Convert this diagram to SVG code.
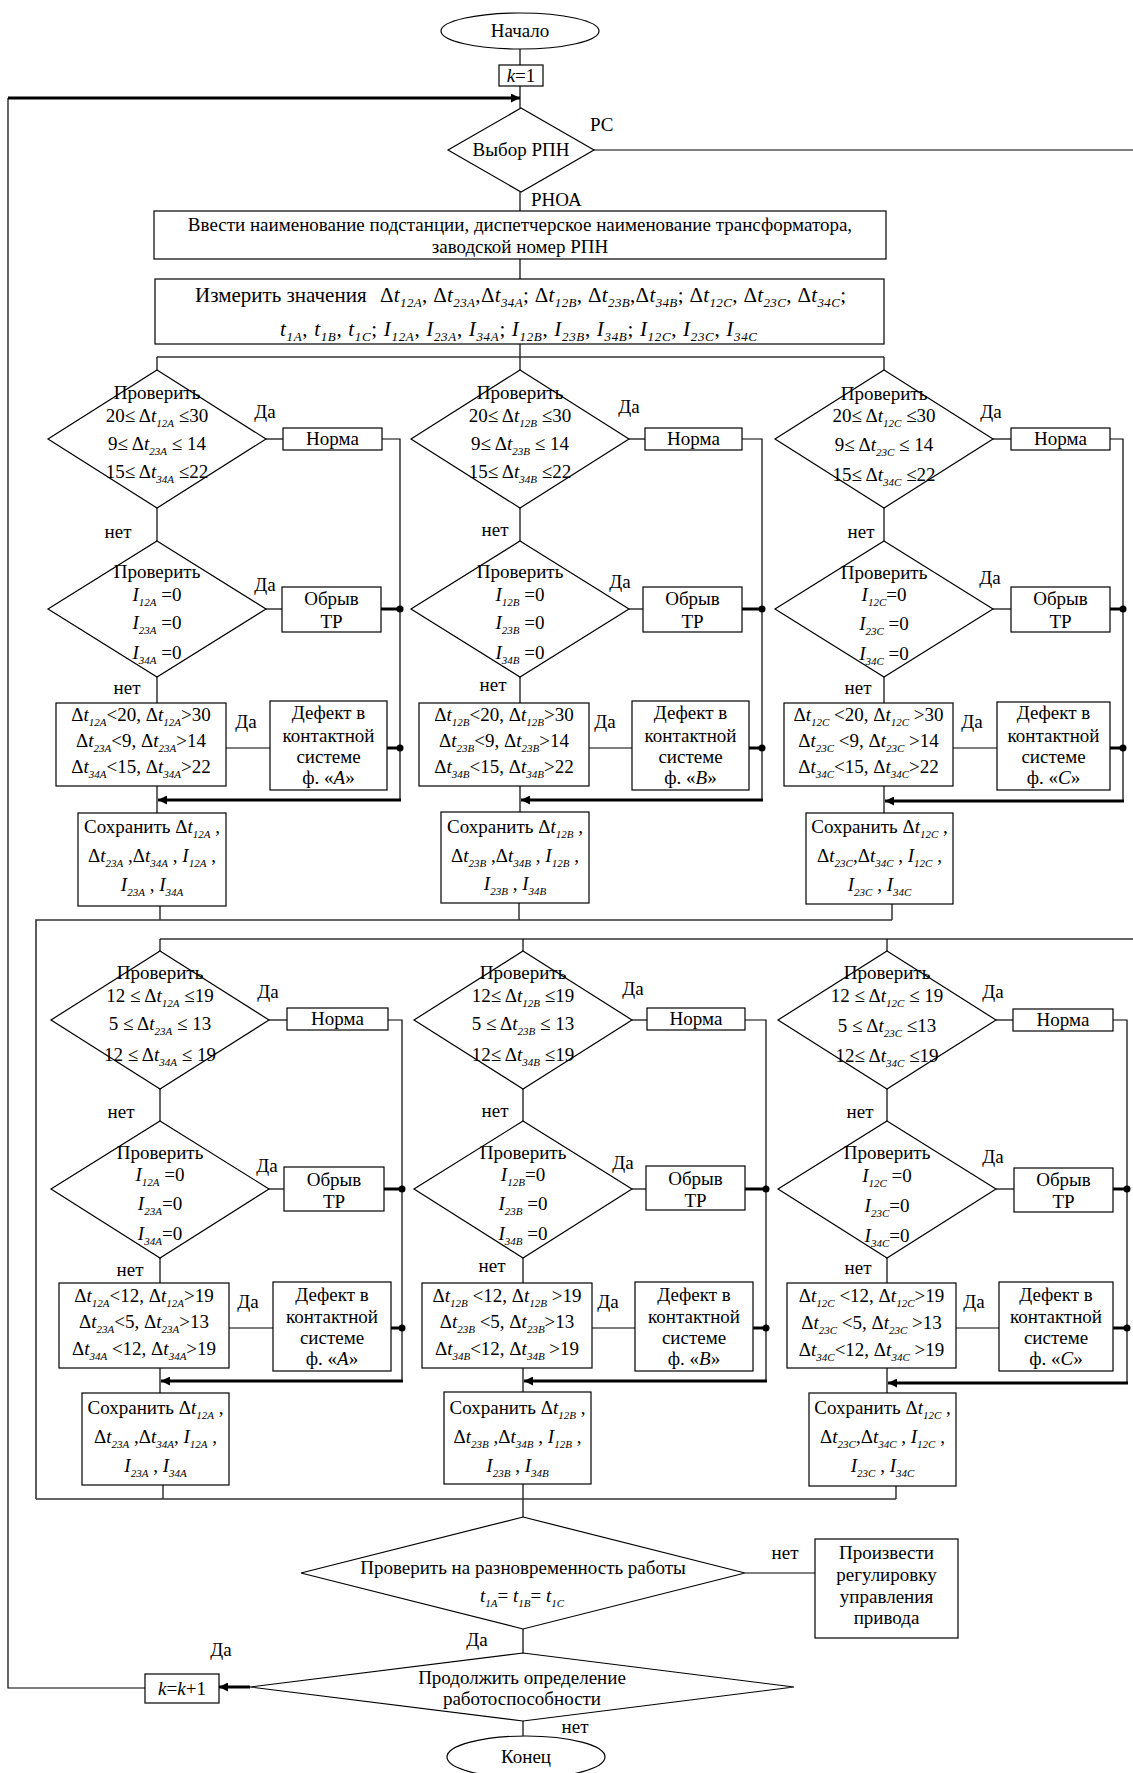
<svg xmlns="http://www.w3.org/2000/svg" width="1133" height="1773" viewBox="0 0 1133 1773">
<style>
.n rect,.n polygon,.n ellipse{fill:#fff;stroke:#000;stroke-width:1.2}
text{font-family:"Liberation Serif","Times New Roman",serif;font-size:19px;fill:#000}
.t{text-anchor:middle}
.i{font-style:italic}
.s{font-size:11px;font-style:italic}
.m{font-size:21px}
.m .s{font-size:13px}
.c line,.c polyline{stroke:#000;stroke-width:1.2;fill:none}
.c .bus{stroke:#333;stroke-width:1.6}
.c .th{stroke-width:3}
.c .ar{marker-end:url(#ah)}
.c circle{fill:#000}
</style>
<defs>
<marker id="ah" viewBox="0 0 10 10" refX="10" refY="5" markerWidth="4" markerHeight="3" orient="auto"><path d="M0,0 L10,5 L0,10 z" fill="#000"/></marker>
</defs>
<rect x="0" y="0" width="1133" height="1773" fill="#fff"/>

<g class="c" id="connectors">
<line x1="520" y1="49" x2="520" y2="65"/>
<line x1="520" y1="86" x2="520" y2="108"/>
<line class="th ar" x1="8" y1="98" x2="520" y2="98"/>
<line x1="594" y1="150" x2="1133" y2="150"/>
<line x1="520" y1="192" x2="520" y2="211"/>
<line x1="520" y1="259" x2="520" y2="279"/>
<line x1="520" y1="344" x2="520" y2="357"/>
<line class="bus" x1="157" y1="357" x2="884" y2="357"/>
<!-- row 1 column A -->
<line x1="157" y1="357" x2="157" y2="370"/>
<line x1="266" y1="439" x2="283" y2="439"/>
<polyline points="382,439 400,439 400,800"/>
<line x1="157" y1="508" x2="157" y2="541"/>
<line x1="266" y1="609" x2="282" y2="609"/>
<line class="th" x1="381" y1="609" x2="400" y2="609"/>
<circle cx="400" cy="609" r="3.5"/>
<line x1="157" y1="677" x2="157" y2="703"/>
<line x1="226" y1="748" x2="270" y2="748"/>
<line class="th" x1="387" y1="748" x2="400" y2="748"/>
<circle cx="400" cy="748" r="3.5"/>
<line class="th ar" x1="401" y1="800" x2="158" y2="800"/>
<line x1="157" y1="786" x2="157" y2="813"/>
<line x1="160" y1="906" x2="160" y2="920"/>
<!-- row 1 column B -->
<line x1="520" y1="357" x2="520" y2="370"/>
<line x1="629" y1="439" x2="645" y2="439"/>
<polyline points="742,439 762,439 762,800"/>
<line x1="520" y1="508" x2="520" y2="541"/>
<line x1="629" y1="609" x2="643" y2="609"/>
<line class="th" x1="742" y1="609" x2="762" y2="609"/>
<circle cx="762" cy="609" r="3.5"/>
<line x1="520" y1="677" x2="520" y2="703"/>
<line x1="589" y1="748" x2="632" y2="748"/>
<line class="th" x1="749" y1="748" x2="762" y2="748"/>
<circle cx="762" cy="748" r="3.5"/>
<line class="th ar" x1="763" y1="800" x2="521" y2="800"/>
<line x1="520" y1="786" x2="520" y2="812"/>
<line x1="519" y1="903" x2="519" y2="920"/>
<!-- row 1 column C -->
<line x1="884" y1="357" x2="884" y2="370"/>
<line x1="993" y1="439" x2="1011" y2="439"/>
<polyline points="1110,439 1123,439 1123,801"/>
<line x1="884" y1="508" x2="884" y2="541"/>
<line x1="993" y1="609" x2="1011" y2="609"/>
<line class="th" x1="1110" y1="609" x2="1123" y2="609"/>
<circle cx="1123" cy="609" r="3.5"/>
<line x1="884" y1="677" x2="884" y2="703"/>
<line x1="953" y1="748" x2="997" y2="748"/>
<line class="th" x1="1110" y1="748" x2="1123" y2="748"/>
<circle cx="1123" cy="748" r="3.5"/>
<line class="th ar" x1="1124" y1="801" x2="885" y2="801"/>
<line x1="884" y1="786" x2="884" y2="813"/>
<line x1="892" y1="904" x2="892" y2="920"/>
<!-- first half bus -->
<polyline class="bus" points="892,920 36,920 36,1499"/>
<line class="bus" x1="160" y1="939" x2="1133" y2="939"/>
<!-- row 2 column A -->
<line x1="160" y1="939" x2="160" y2="951"/>
<line x1="269" y1="1020" x2="287" y2="1020"/>
<polyline points="388,1020 402,1020 402,1381"/>
<line x1="160" y1="1089" x2="160" y2="1121"/>
<line x1="269" y1="1189" x2="284" y2="1189"/>
<line class="th" x1="384" y1="1189" x2="402" y2="1189"/>
<circle cx="402" cy="1189" r="3.5"/>
<line x1="160" y1="1258" x2="160" y2="1283"/>
<line x1="229" y1="1328" x2="273" y2="1328"/>
<line class="th" x1="391" y1="1328" x2="402" y2="1328"/>
<circle cx="402" cy="1328" r="3.5"/>
<line class="th ar" x1="403" y1="1381" x2="161" y2="1381"/>
<line x1="160" y1="1368" x2="160" y2="1393"/>
<line x1="163" y1="1485" x2="163" y2="1499"/>
<!-- row 2 column B -->
<line x1="523" y1="939" x2="523" y2="951"/>
<line x1="632" y1="1020" x2="647" y2="1020"/>
<polyline points="745,1020 766,1020 766,1381"/>
<line x1="523" y1="1089" x2="523" y2="1121"/>
<line x1="632" y1="1189" x2="646" y2="1189"/>
<line class="th" x1="745" y1="1189" x2="766" y2="1189"/>
<circle cx="766" cy="1189" r="3.5"/>
<line x1="523" y1="1258" x2="523" y2="1283"/>
<line x1="592" y1="1328" x2="635" y2="1328"/>
<line class="th" x1="753" y1="1328" x2="766" y2="1328"/>
<circle cx="766" cy="1328" r="3.5"/>
<line class="th ar" x1="767" y1="1381" x2="524" y2="1381"/>
<line x1="523" y1="1368" x2="523" y2="1392"/>
<line x1="523" y1="1484" x2="523" y2="1517"/>
<!-- row 2 column C -->
<line x1="887" y1="939" x2="887" y2="951"/>
<line x1="996" y1="1020" x2="1013" y2="1020"/>
<polyline points="1113,1020 1127,1020 1127,1383"/>
<line x1="887" y1="1089" x2="887" y2="1121"/>
<line x1="996" y1="1189" x2="1014" y2="1189"/>
<line class="th" x1="1113" y1="1189" x2="1127" y2="1189"/>
<circle cx="1127" cy="1189" r="3.5"/>
<line x1="887" y1="1258" x2="887" y2="1283"/>
<line x1="956" y1="1328" x2="999" y2="1328"/>
<line class="th" x1="1113" y1="1328" x2="1127" y2="1328"/>
<circle cx="1127" cy="1328" r="3.5"/>
<line class="th ar" x1="1128" y1="1383" x2="888" y2="1383"/>
<line x1="887" y1="1368" x2="887" y2="1393"/>
<line x1="896" y1="1486" x2="896" y2="1499"/>
<line class="bus" x1="36" y1="1499" x2="896" y2="1499"/>
<!-- bottom -->
<line x1="745" y1="1573" x2="815" y2="1573"/>
<line x1="523" y1="1629" x2="523" y2="1653"/>
<line class="th ar" x1="250" y1="1687" x2="219" y2="1687"/>
<polyline points="145,1688 8,1688 8,98"/>
<line x1="523" y1="1721" x2="523" y2="1736"/>
</g>

<g id="labels">
<text x="590" y="131">РС</text>
<text x="531" y="206">РНОА</text>
<text class="t" x="265" y="418">Да</text>
<text class="t" x="629" y="413">Да</text>
<text class="t" x="991" y="418">Да</text>
<text class="t" x="118" y="538">нет</text>
<text class="t" x="495" y="536">нет</text>
<text class="t" x="861" y="538">нет</text>
<text class="t" x="265" y="591">Да</text>
<text class="t" x="620" y="588">Да</text>
<text class="t" x="990" y="584">Да</text>
<text class="t" x="127" y="694">нет</text>
<text class="t" x="493" y="691">нет</text>
<text class="t" x="858" y="694">нет</text>
<text class="t" x="246" y="728">Да</text>
<text class="t" x="605" y="728">Да</text>
<text class="t" x="972" y="728">Да</text>
<text class="t" x="268" y="998">Да</text>
<text class="t" x="633" y="995">Да</text>
<text class="t" x="993" y="998">Да</text>
<text class="t" x="121" y="1118">нет</text>
<text class="t" x="495" y="1117">нет</text>
<text class="t" x="860" y="1118">нет</text>
<text class="t" x="267" y="1172">Да</text>
<text class="t" x="623" y="1169">Да</text>
<text class="t" x="993" y="1163">Да</text>
<text class="t" x="130" y="1276">нет</text>
<text class="t" x="492" y="1272">нет</text>
<text class="t" x="858" y="1274">нет</text>
<text class="t" x="248" y="1308">Да</text>
<text class="t" x="608" y="1308">Да</text>
<text class="t" x="974" y="1308">Да</text>
<text class="t" x="785" y="1559">нет</text>
<text class="t" x="477" y="1646">Да</text>
<text class="t" x="221" y="1656">Да</text>
<text class="t" x="575" y="1733">нет</text>
</g>

<g class="n" id="start"><ellipse cx="520" cy="31" rx="79" ry="18"/><text class="t" x="520" y="37">Начало</text></g>
<g class="n" id="k1"><rect x="499" y="65" width="44" height="21"/><text class="t" x="521" y="82"><tspan class="i">k</tspan>=1</text></g>
<g class="n" id="choose"><polygon points="521,108 594,150 521,192 448,150"/><text class="t" x="521" y="156">Выбор РПН</text></g>
<g class="n" id="input"><rect x="154" y="211" width="732" height="48"/>
<text class="t" x="520" y="231">Ввести наименование подстанции, диспетчерское наименование трансформатора,</text>
<text class="t" x="520" y="253">заводской номер РПН</text></g>
<g class="n" id="measure"><rect x="155" y="279" width="729" height="65"/>
<text x="195" y="302" class="m">Измерить значения</text>
<text class="m" x="380" y="302" textLength="466" lengthAdjust="spacing">Δ<tspan class="i">t</tspan><tspan class="s" dy="5">12A</tspan><tspan dy="-5">, Δ</tspan><tspan class="i">t</tspan><tspan class="s" dy="5">23A</tspan><tspan dy="-5">,Δ</tspan><tspan class="i">t</tspan><tspan class="s" dy="5">34A</tspan><tspan dy="-5">; Δ</tspan><tspan class="i">t</tspan><tspan class="s" dy="5">12B</tspan><tspan dy="-5">, Δ</tspan><tspan class="i">t</tspan><tspan class="s" dy="5">23B</tspan><tspan dy="-5">,Δ</tspan><tspan class="i">t</tspan><tspan class="s" dy="5">34B</tspan><tspan dy="-5">; Δ</tspan><tspan class="i">t</tspan><tspan class="s" dy="5">12C</tspan><tspan dy="-5">, Δ</tspan><tspan class="i">t</tspan><tspan class="s" dy="5">23C</tspan><tspan dy="-5">, Δ</tspan><tspan class="i">t</tspan><tspan class="s" dy="5">34C</tspan><tspan dy="-5">;</tspan></text>
<text class="m" x="280" y="336" textLength="477" lengthAdjust="spacing"><tspan class="i">t</tspan><tspan class="s" dy="5">1A</tspan><tspan dy="-5">, </tspan><tspan class="i">t</tspan><tspan class="s" dy="5">1B</tspan><tspan dy="-5">, </tspan><tspan class="i">t</tspan><tspan class="s" dy="5">1C</tspan><tspan dy="-5">; </tspan><tspan class="i">I</tspan><tspan class="s" dy="5">12A</tspan><tspan dy="-5">, </tspan><tspan class="i">I</tspan><tspan class="s" dy="5">23A</tspan><tspan dy="-5">, </tspan><tspan class="i">I</tspan><tspan class="s" dy="5">34A</tspan><tspan dy="-5">; </tspan><tspan class="i">I</tspan><tspan class="s" dy="5">12B</tspan><tspan dy="-5">, </tspan><tspan class="i">I</tspan><tspan class="s" dy="5">23B</tspan><tspan dy="-5">, </tspan><tspan class="i">I</tspan><tspan class="s" dy="5">34B</tspan><tspan dy="-5">; </tspan><tspan class="i">I</tspan><tspan class="s" dy="5">12C</tspan><tspan dy="-5">, </tspan><tspan class="i">I</tspan><tspan class="s" dy="5">23C</tspan><tspan dy="-5">, </tspan><tspan class="i">I</tspan><tspan class="s" dy="5">34C</tspan></text></g>

<!-- ROW 1 A -->
<g class="n" id="d1A"><polygon points="157,370 266,439 157,508 48,439"/>
<text class="t" x="157" y="399">Проверить</text>
<text class="t" x="157" y="422">20≤ Δ<tspan class="i">t</tspan><tspan class="s" dy="5">12A</tspan><tspan dy="-5"> ≤30</tspan></text>
<text class="t" x="157" y="450">9≤ Δ<tspan class="i">t</tspan><tspan class="s" dy="5">23A</tspan><tspan dy="-5"> ≤ 14</tspan></text>
<text class="t" x="157" y="478">15≤ Δ<tspan class="i">t</tspan><tspan class="s" dy="5">34A</tspan><tspan dy="-5"> ≤22</tspan></text></g>
<g class="n" id="norm1A"><rect x="283" y="428" width="99" height="22"/><text class="t" x="332.5" y="445">Норма</text></g>
<g class="n" id="d2A"><polygon points="157,541 266,609 157,677 48,609"/>
<text class="t" x="157" y="578">Проверить</text>
<text class="t" x="157" y="601"><tspan class="i">I</tspan><tspan class="s" dy="5">12A</tspan><tspan dy="-5"> =0</tspan></text>
<text class="t" x="157" y="629"><tspan class="i">I</tspan><tspan class="s" dy="5">23A</tspan><tspan dy="-5"> =0</tspan></text>
<text class="t" x="157" y="659"><tspan class="i">I</tspan><tspan class="s" dy="5">34A</tspan><tspan dy="-5"> =0</tspan></text></g>
<g class="n" id="obr1A"><rect x="282" y="587" width="99" height="45"/><text class="t" x="331.5" y="605">Обрыв</text><text class="t" x="331.5" y="628">ТР</text></g>
<g class="n" id="b3A"><rect x="56" y="703" width="170" height="83"/>
<text class="t" x="141" y="721">Δ<tspan class="i">t</tspan><tspan class="s" dy="5">12A</tspan><tspan dy="-5">&lt;20, Δ</tspan><tspan class="i">t</tspan><tspan class="s" dy="5">12A</tspan><tspan dy="-5">&gt;30</tspan></text>
<text class="t" x="141" y="747">Δ<tspan class="i">t</tspan><tspan class="s" dy="5">23A</tspan><tspan dy="-5">&lt;9, Δ</tspan><tspan class="i">t</tspan><tspan class="s" dy="5">23A</tspan><tspan dy="-5">&gt;14</tspan></text>
<text class="t" x="141" y="773">Δ<tspan class="i">t</tspan><tspan class="s" dy="5">34A</tspan><tspan dy="-5">&lt;15, Δ</tspan><tspan class="i">t</tspan><tspan class="s" dy="5">34A</tspan><tspan dy="-5">&gt;22</tspan></text></g>
<g class="n" id="def1A"><rect x="270" y="701" width="117" height="89"/>
<text class="t" x="328.5" y="719">Дефект в</text><text class="t" x="328.5" y="742">контактной</text><text class="t" x="328.5" y="763">системе</text><text class="t" x="328.5" y="784">ф. «<tspan class="i">A</tspan>»</text></g>
<g class="n" id="save1A"><rect x="78" y="813" width="148" height="93"/>
<text class="t" x="152" y="833">Сохранить Δ<tspan class="i">t</tspan><tspan class="s" dy="5">12A</tspan><tspan dy="-5"> ,</tspan></text>
<text class="t" x="152" y="862">Δ<tspan class="i">t</tspan><tspan class="s" dy="5">23A</tspan><tspan dy="-5"> ,Δ</tspan><tspan class="i">t</tspan><tspan class="s" dy="5">34A</tspan><tspan dy="-5"> , </tspan><tspan class="i">I</tspan><tspan class="s" dy="5">12A</tspan><tspan dy="-5"> ,</tspan></text>
<text class="t" x="152" y="891"><tspan class="i">I</tspan><tspan class="s" dy="5">23A</tspan><tspan dy="-5"> , </tspan><tspan class="i">I</tspan><tspan class="s" dy="5">34A</tspan></text></g>

<!-- ROW 1 B -->
<g class="n" id="d1B"><polygon points="520,370 629,439 520,508 411,439"/>
<text class="t" x="520" y="399">Проверить</text>
<text class="t" x="520" y="422">20≤ Δ<tspan class="i">t</tspan><tspan class="s" dy="5">12B</tspan><tspan dy="-5"> ≤30</tspan></text>
<text class="t" x="520" y="450">9≤ Δ<tspan class="i">t</tspan><tspan class="s" dy="5">23B</tspan><tspan dy="-5"> ≤ 14</tspan></text>
<text class="t" x="520" y="478">15≤ Δ<tspan class="i">t</tspan><tspan class="s" dy="5">34B</tspan><tspan dy="-5"> ≤22</tspan></text></g>
<g class="n" id="norm1B"><rect x="645" y="428" width="97" height="22"/><text class="t" x="693.5" y="445">Норма</text></g>
<g class="n" id="d2B"><polygon points="520,541 629,609 520,677 411,609"/>
<text class="t" x="520" y="578">Проверить</text>
<text class="t" x="520" y="601"><tspan class="i">I</tspan><tspan class="s" dy="5">12B</tspan><tspan dy="-5"> =0</tspan></text>
<text class="t" x="520" y="629"><tspan class="i">I</tspan><tspan class="s" dy="5">23B</tspan><tspan dy="-5"> =0</tspan></text>
<text class="t" x="520" y="659"><tspan class="i">I</tspan><tspan class="s" dy="5">34B</tspan><tspan dy="-5"> =0</tspan></text></g>
<g class="n" id="obr1B"><rect x="643" y="587" width="99" height="45"/><text class="t" x="692.5" y="605">Обрыв</text><text class="t" x="692.5" y="628">ТР</text></g>
<g class="n" id="b3B"><rect x="419" y="703" width="170" height="83"/>
<text class="t" x="504" y="721">Δ<tspan class="i">t</tspan><tspan class="s" dy="5">12B</tspan><tspan dy="-5">&lt;20, Δ</tspan><tspan class="i">t</tspan><tspan class="s" dy="5">12B</tspan><tspan dy="-5">&gt;30</tspan></text>
<text class="t" x="504" y="747">Δ<tspan class="i">t</tspan><tspan class="s" dy="5">23B</tspan><tspan dy="-5">&lt;9, Δ</tspan><tspan class="i">t</tspan><tspan class="s" dy="5">23B</tspan><tspan dy="-5">&gt;14</tspan></text>
<text class="t" x="504" y="773">Δ<tspan class="i">t</tspan><tspan class="s" dy="5">34B</tspan><tspan dy="-5">&lt;15, Δ</tspan><tspan class="i">t</tspan><tspan class="s" dy="5">34B</tspan><tspan dy="-5">&gt;22</tspan></text></g>
<g class="n" id="def1B"><rect x="632" y="701" width="117" height="89"/>
<text class="t" x="690.5" y="719">Дефект в</text><text class="t" x="690.5" y="742">контактной</text><text class="t" x="690.5" y="763">системе</text><text class="t" x="690.5" y="784">ф. «<tspan class="i">B</tspan>»</text></g>
<g class="n" id="save1B"><rect x="441" y="812" width="148" height="91"/>
<text class="t" x="515" y="833">Сохранить Δ<tspan class="i">t</tspan><tspan class="s" dy="5">12B</tspan><tspan dy="-5"> ,</tspan></text>
<text class="t" x="515" y="862">Δ<tspan class="i">t</tspan><tspan class="s" dy="5">23B</tspan><tspan dy="-5"> ,Δ</tspan><tspan class="i">t</tspan><tspan class="s" dy="5">34B</tspan><tspan dy="-5"> , </tspan><tspan class="i">I</tspan><tspan class="s" dy="5">12B</tspan><tspan dy="-5"> ,</tspan></text>
<text class="t" x="515" y="890"><tspan class="i">I</tspan><tspan class="s" dy="5">23B</tspan><tspan dy="-5"> , </tspan><tspan class="i">I</tspan><tspan class="s" dy="5">34B</tspan></text></g>

<!-- ROW 1 C -->
<g class="n" id="d1C"><polygon points="884,370 993,439 884,508 775,439"/>
<text class="t" x="884" y="400">Проверить</text>
<text class="t" x="884" y="422">20≤ Δ<tspan class="i">t</tspan><tspan class="s" dy="5">12C</tspan><tspan dy="-5"> ≤30</tspan></text>
<text class="t" x="884" y="451">9≤ Δ<tspan class="i">t</tspan><tspan class="s" dy="5">23C</tspan><tspan dy="-5"> ≤ 14</tspan></text>
<text class="t" x="884" y="481">15≤ Δ<tspan class="i">t</tspan><tspan class="s" dy="5">34C</tspan><tspan dy="-5"> ≤22</tspan></text></g>
<g class="n" id="norm1C"><rect x="1011" y="428" width="99" height="22"/><text class="t" x="1060.5" y="445">Норма</text></g>
<g class="n" id="d2C"><polygon points="884,541 993,609 884,677 775,609"/>
<text class="t" x="884" y="579">Проверить</text>
<text class="t" x="884" y="601"><tspan class="i">I</tspan><tspan class="s" dy="5">12C</tspan><tspan dy="-5">=0</tspan></text>
<text class="t" x="884" y="630"><tspan class="i">I</tspan><tspan class="s" dy="5">23C</tspan><tspan dy="-5"> =0</tspan></text>
<text class="t" x="884" y="660"><tspan class="i">I</tspan><tspan class="s" dy="5">34C</tspan><tspan dy="-5"> =0</tspan></text></g>
<g class="n" id="obr1C"><rect x="1011" y="587" width="99" height="45"/><text class="t" x="1060.5" y="605">Обрыв</text><text class="t" x="1060.5" y="628">ТР</text></g>
<g class="n" id="b3C"><rect x="784" y="703" width="169" height="83"/>
<text class="t" x="868.5" y="721">Δ<tspan class="i">t</tspan><tspan class="s" dy="5">12C</tspan><tspan dy="-5"> &lt;20, Δ</tspan><tspan class="i">t</tspan><tspan class="s" dy="5">12C</tspan><tspan dy="-5"> &gt;30</tspan></text>
<text class="t" x="868.5" y="747">Δ<tspan class="i">t</tspan><tspan class="s" dy="5">23C</tspan><tspan dy="-5"> &lt;9, Δ</tspan><tspan class="i">t</tspan><tspan class="s" dy="5">23C</tspan><tspan dy="-5"> &gt;14</tspan></text>
<text class="t" x="868.5" y="773">Δ<tspan class="i">t</tspan><tspan class="s" dy="5">34C</tspan><tspan dy="-5">&lt;15, Δ</tspan><tspan class="i">t</tspan><tspan class="s" dy="5">34C</tspan><tspan dy="-5">&gt;22</tspan></text></g>
<g class="n" id="def1C"><rect x="997" y="702" width="113" height="88"/>
<text class="t" x="1053.5" y="719">Дефект в</text><text class="t" x="1053.5" y="742">контактной</text><text class="t" x="1053.5" y="763">системе</text><text class="t" x="1053.5" y="784">ф. «<tspan class="i">C</tspan>»</text></g>
<g class="n" id="save1C"><rect x="806" y="813" width="147" height="91"/>
<text class="t" x="879.5" y="833">Сохранить Δ<tspan class="i">t</tspan><tspan class="s" dy="5">12C</tspan><tspan dy="-5"> ,</tspan></text>
<text class="t" x="879.5" y="862">Δ<tspan class="i">t</tspan><tspan class="s" dy="5">23C</tspan><tspan dy="-5">,Δ</tspan><tspan class="i">t</tspan><tspan class="s" dy="5">34C</tspan><tspan dy="-5"> , </tspan><tspan class="i">I</tspan><tspan class="s" dy="5">12C</tspan><tspan dy="-5"> ,</tspan></text>
<text class="t" x="879.5" y="891"><tspan class="i">I</tspan><tspan class="s" dy="5">23C</tspan><tspan dy="-5"> , </tspan><tspan class="i">I</tspan><tspan class="s" dy="5">34C</tspan></text></g>

<!-- ROW 2 A -->
<g class="n" id="d4A"><polygon points="160,951 269,1020 160,1089 51,1020"/>
<text class="t" x="160" y="979">Проверить</text>
<text class="t" x="160" y="1002">12 ≤ Δ<tspan class="i">t</tspan><tspan class="s" dy="5">12A</tspan><tspan dy="-5"> ≤19</tspan></text>
<text class="t" x="160" y="1030">5 ≤ Δ<tspan class="i">t</tspan><tspan class="s" dy="5">23A</tspan><tspan dy="-5"> ≤ 13</tspan></text>
<text class="t" x="160" y="1061">12 ≤ Δ<tspan class="i">t</tspan><tspan class="s" dy="5">34A</tspan><tspan dy="-5"> ≤ 19</tspan></text></g>
<g class="n" id="norm4A"><rect x="287" y="1008" width="101" height="22"/><text class="t" x="337.5" y="1025">Норма</text></g>
<g class="n" id="d5A"><polygon points="160,1121 269,1189 160,1258 51,1189"/>
<text class="t" x="160" y="1159">Проверить</text>
<text class="t" x="160" y="1181"><tspan class="i">I</tspan><tspan class="s" dy="5">12A</tspan><tspan dy="-5"> =0</tspan></text>
<text class="t" x="160" y="1210"><tspan class="i">I</tspan><tspan class="s" dy="5">23A</tspan><tspan dy="-5">=0</tspan></text>
<text class="t" x="160" y="1240"><tspan class="i">I</tspan><tspan class="s" dy="5">34A</tspan><tspan dy="-5">=0</tspan></text></g>
<g class="n" id="obr4A"><rect x="284" y="1167" width="100" height="44"/><text class="t" x="334" y="1186">Обрыв</text><text class="t" x="334" y="1208">ТР</text></g>
<g class="n" id="b6A"><rect x="59" y="1283" width="170" height="85"/>
<text class="t" x="144" y="1302">Δ<tspan class="i">t</tspan><tspan class="s" dy="5">12A</tspan><tspan dy="-5">&lt;12, Δ</tspan><tspan class="i">t</tspan><tspan class="s" dy="5">12A</tspan><tspan dy="-5">&gt;19</tspan></text>
<text class="t" x="144" y="1328">Δ<tspan class="i">t</tspan><tspan class="s" dy="5">23A</tspan><tspan dy="-5">&lt;5, Δ</tspan><tspan class="i">t</tspan><tspan class="s" dy="5">23A</tspan><tspan dy="-5">&gt;13</tspan></text>
<text class="t" x="144" y="1355">Δ<tspan class="i">t</tspan><tspan class="s" dy="5">34A</tspan><tspan dy="-5"> &lt;12, Δ</tspan><tspan class="i">t</tspan><tspan class="s" dy="5">34A</tspan><tspan dy="-5">&gt;19</tspan></text></g>
<g class="n" id="def4A"><rect x="273" y="1282" width="118" height="89"/>
<text class="t" x="332" y="1301">Дефект в</text><text class="t" x="332" y="1323">контактной</text><text class="t" x="332" y="1344">системе</text><text class="t" x="332" y="1365">ф. «<tspan class="i">A</tspan>»</text></g>
<g class="n" id="save4A"><rect x="82" y="1393" width="147" height="92"/>
<text class="t" x="155.5" y="1414">Сохранить Δ<tspan class="i">t</tspan><tspan class="s" dy="5">12A</tspan><tspan dy="-5"> ,</tspan></text>
<text class="t" x="155.5" y="1443">Δ<tspan class="i">t</tspan><tspan class="s" dy="5">23A</tspan><tspan dy="-5"> ,Δ</tspan><tspan class="i">t</tspan><tspan class="s" dy="5">34A</tspan><tspan dy="-5">, </tspan><tspan class="i">I</tspan><tspan class="s" dy="5">12A</tspan><tspan dy="-5"> ,</tspan></text>
<text class="t" x="155.5" y="1472"><tspan class="i">I</tspan><tspan class="s" dy="5">23A</tspan><tspan dy="-5"> , </tspan><tspan class="i">I</tspan><tspan class="s" dy="5">34A</tspan></text></g>

<!-- ROW 2 B -->
<g class="n" id="d4B"><polygon points="523,951 632,1020 523,1089 414,1020"/>
<text class="t" x="523" y="979">Проверить</text>
<text class="t" x="523" y="1002">12≤ Δ<tspan class="i">t</tspan><tspan class="s" dy="5">12B</tspan><tspan dy="-5"> ≤19</tspan></text>
<text class="t" x="523" y="1030">5 ≤ Δ<tspan class="i">t</tspan><tspan class="s" dy="5">23B</tspan><tspan dy="-5"> ≤ 13</tspan></text>
<text class="t" x="523" y="1061">12≤ Δ<tspan class="i">t</tspan><tspan class="s" dy="5">34B</tspan><tspan dy="-5"> ≤19</tspan></text></g>
<g class="n" id="norm4B"><rect x="647" y="1008" width="98" height="22"/><text class="t" x="696" y="1025">Норма</text></g>
<g class="n" id="d5B"><polygon points="523,1121 632,1189 523,1258 414,1189"/>
<text class="t" x="523" y="1159">Проверить</text>
<text class="t" x="523" y="1181"><tspan class="i">I</tspan><tspan class="s" dy="5">12B</tspan><tspan dy="-5">=0</tspan></text>
<text class="t" x="523" y="1210"><tspan class="i">I</tspan><tspan class="s" dy="5">23B</tspan><tspan dy="-5"> =0</tspan></text>
<text class="t" x="523" y="1240"><tspan class="i">I</tspan><tspan class="s" dy="5">34B</tspan><tspan dy="-5"> =0</tspan></text></g>
<g class="n" id="obr4B"><rect x="646" y="1166" width="99" height="44"/><text class="t" x="695.5" y="1185">Обрыв</text><text class="t" x="695.5" y="1207">ТР</text></g>
<g class="n" id="b6B"><rect x="422" y="1283" width="170" height="85"/>
<text class="t" x="507" y="1302">Δ<tspan class="i">t</tspan><tspan class="s" dy="5">12B</tspan><tspan dy="-5"> &lt;12, Δ</tspan><tspan class="i">t</tspan><tspan class="s" dy="5">12B</tspan><tspan dy="-5"> &gt;19</tspan></text>
<text class="t" x="507" y="1328">Δ<tspan class="i">t</tspan><tspan class="s" dy="5">23B</tspan><tspan dy="-5"> &lt;5, Δ</tspan><tspan class="i">t</tspan><tspan class="s" dy="5">23B</tspan><tspan dy="-5">&gt;13</tspan></text>
<text class="t" x="507" y="1355">Δ<tspan class="i">t</tspan><tspan class="s" dy="5">34B</tspan><tspan dy="-5">&lt;12, Δ</tspan><tspan class="i">t</tspan><tspan class="s" dy="5">34B</tspan><tspan dy="-5"> &gt;19</tspan></text></g>
<g class="n" id="def4B"><rect x="635" y="1282" width="118" height="89"/>
<text class="t" x="694" y="1301">Дефект в</text><text class="t" x="694" y="1323">контактной</text><text class="t" x="694" y="1344">системе</text><text class="t" x="694" y="1365">ф. «<tspan class="i">B</tspan>»</text></g>
<g class="n" id="save4B"><rect x="444" y="1392" width="147" height="92"/>
<text class="t" x="517.5" y="1414">Сохранить Δ<tspan class="i">t</tspan><tspan class="s" dy="5">12B</tspan><tspan dy="-5"> ,</tspan></text>
<text class="t" x="517.5" y="1443">Δ<tspan class="i">t</tspan><tspan class="s" dy="5">23B</tspan><tspan dy="-5"> ,Δ</tspan><tspan class="i">t</tspan><tspan class="s" dy="5">34B</tspan><tspan dy="-5"> , </tspan><tspan class="i">I</tspan><tspan class="s" dy="5">12B</tspan><tspan dy="-5"> ,</tspan></text>
<text class="t" x="517.5" y="1472"><tspan class="i">I</tspan><tspan class="s" dy="5">23B</tspan><tspan dy="-5"> , </tspan><tspan class="i">I</tspan><tspan class="s" dy="5">34B</tspan></text></g>

<!-- ROW 2 C -->
<g class="n" id="d4C"><polygon points="887,951 996,1020 887,1089 778,1020"/>
<text class="t" x="887" y="979">Проверить</text>
<text class="t" x="887" y="1002">12 ≤ Δ<tspan class="i">t</tspan><tspan class="s" dy="5">12C</tspan><tspan dy="-5"> ≤ 19</tspan></text>
<text class="t" x="887" y="1032">5 ≤ Δ<tspan class="i">t</tspan><tspan class="s" dy="5">23C</tspan><tspan dy="-5"> ≤13</tspan></text>
<text class="t" x="887" y="1062">12≤ Δ<tspan class="i">t</tspan><tspan class="s" dy="5">34C</tspan><tspan dy="-5"> ≤19</tspan></text></g>
<g class="n" id="norm4C"><rect x="1013" y="1009" width="100" height="22"/><text class="t" x="1063" y="1026">Норма</text></g>
<g class="n" id="d5C"><polygon points="887,1121 996,1189 887,1258 778,1189"/>
<text class="t" x="887" y="1159">Проверить</text>
<text class="t" x="887" y="1182"><tspan class="i">I</tspan><tspan class="s" dy="5">12C</tspan><tspan dy="-5"> =0</tspan></text>
<text class="t" x="887" y="1212"><tspan class="i">I</tspan><tspan class="s" dy="5">23C</tspan><tspan dy="-5">=0</tspan></text>
<text class="t" x="887" y="1242"><tspan class="i">I</tspan><tspan class="s" dy="5">34C</tspan><tspan dy="-5">=0</tspan></text></g>
<g class="n" id="obr4C"><rect x="1014" y="1168" width="99" height="44"/><text class="t" x="1063.5" y="1186">Обрыв</text><text class="t" x="1063.5" y="1208">ТР</text></g>
<g class="n" id="b6C"><rect x="787" y="1283" width="169" height="85"/>
<text class="t" x="871.5" y="1302">Δ<tspan class="i">t</tspan><tspan class="s" dy="5">12C</tspan><tspan dy="-5"> &lt;12, Δ</tspan><tspan class="i">t</tspan><tspan class="s" dy="5">12C</tspan><tspan dy="-5">&gt;19</tspan></text>
<text class="t" x="871.5" y="1329">Δ<tspan class="i">t</tspan><tspan class="s" dy="5">23C</tspan><tspan dy="-5"> &lt;5, Δ</tspan><tspan class="i">t</tspan><tspan class="s" dy="5">23C</tspan><tspan dy="-5"> &gt;13</tspan></text>
<text class="t" x="871.5" y="1356">Δ<tspan class="i">t</tspan><tspan class="s" dy="5">34C</tspan><tspan dy="-5">&lt;12, Δ</tspan><tspan class="i">t</tspan><tspan class="s" dy="5">34C</tspan><tspan dy="-5"> &gt;19</tspan></text></g>
<g class="n" id="def4C"><rect x="999" y="1282" width="114" height="89"/>
<text class="t" x="1056" y="1301">Дефект в</text><text class="t" x="1056" y="1323">контактной</text><text class="t" x="1056" y="1344">системе</text><text class="t" x="1056" y="1365">ф. «<tspan class="i">C</tspan>»</text></g>
<g class="n" id="save4C"><rect x="809" y="1393" width="147" height="93"/>
<text class="t" x="882.5" y="1414">Сохранить Δ<tspan class="i">t</tspan><tspan class="s" dy="5">12C</tspan><tspan dy="-5"> ,</tspan></text>
<text class="t" x="882.5" y="1443">Δ<tspan class="i">t</tspan><tspan class="s" dy="5">23C</tspan><tspan dy="-5">,Δ</tspan><tspan class="i">t</tspan><tspan class="s" dy="5">34C</tspan><tspan dy="-5"> , </tspan><tspan class="i">I</tspan><tspan class="s" dy="5">12C</tspan><tspan dy="-5"> ,</tspan></text>
<text class="t" x="882.5" y="1472"><tspan class="i">I</tspan><tspan class="s" dy="5">23C</tspan><tspan dy="-5"> , </tspan><tspan class="i">I</tspan><tspan class="s" dy="5">34C</tspan></text></g>

<!-- BOTTOM -->
<g class="n" id="simult"><polygon points="523,1517 745,1573 523,1629 301,1573"/>
<text class="t" x="523" y="1574">Проверить на разновременность работы</text>
<text class="t" x="522" y="1602"><tspan class="i">t</tspan><tspan class="s" dy="5">1A</tspan><tspan dy="-5">= </tspan><tspan class="i">t</tspan><tspan class="s" dy="5">1B</tspan><tspan dy="-5">= </tspan><tspan class="i">t</tspan><tspan class="s" dy="5">1C</tspan></text></g>
<g class="n" id="adjust"><rect x="815" y="1539" width="143" height="99"/>
<text class="t" x="886.5" y="1559">Произвести</text><text class="t" x="886.5" y="1581">регулировку</text><text class="t" x="886.5" y="1603">управления</text><text class="t" x="886.5" y="1624">привода</text></g>
<g class="n" id="continue"><polygon points="523,1653 794,1687 523,1721 250,1687"/>
<text class="t" x="522" y="1684">Продолжить определение</text>
<text class="t" x="522" y="1705">работоспособности</text></g>
<g class="n" id="kinc"><rect x="145" y="1674" width="74" height="29"/><text class="t" x="182" y="1695"><tspan class="i">k</tspan>=<tspan class="i">k</tspan>+1</text></g>
<g class="n" id="end"><ellipse cx="526" cy="1757" rx="79" ry="21"/><text class="t" x="526" y="1763">Конец</text></g>
</svg>
